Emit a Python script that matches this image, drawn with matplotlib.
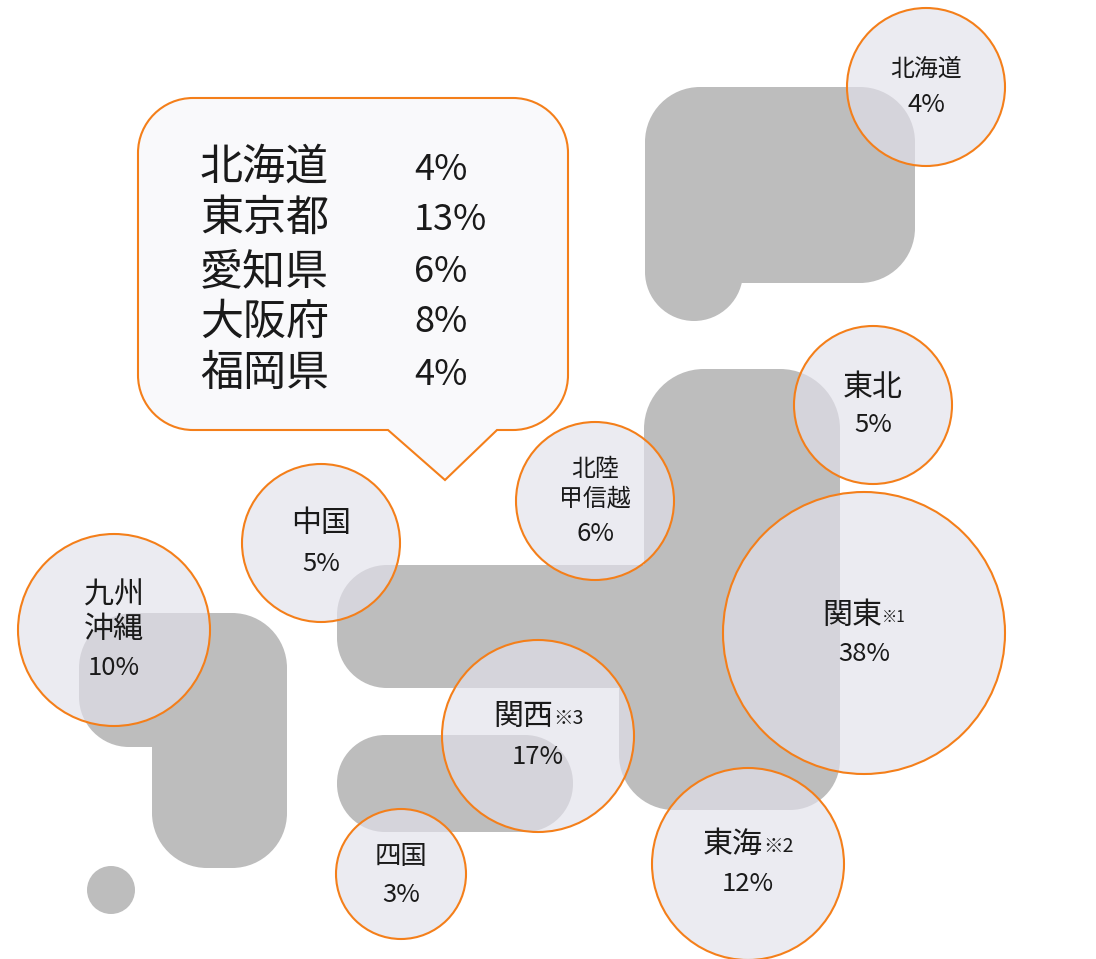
import matplotlib
matplotlib.use('Agg')
import matplotlib.pyplot as plt
from matplotlib.patches import Circle, PathPatch
from matplotlib.path import Path

plt.rcParams['font.family'] = ['Noto Sans CJK JP', 'DejaVu Sans']

# 地域別の割合
regions = ['北海道', '東北', '関東', '北陸\n甲信越', '中国', '九州\n沖縄', '関西', '四国', '東海']
shares = [4, 5, 38, 6, 5, 10, 17, 3, 12]
notes = ['', '', '※1', '', '', '', '※3', '', '※2']

# 吹き出しの表
cities = ['北海道', '東京都', '愛知県', '大阪府', '福岡県']
city_shares = [4, 13, 6, 8, 4]

# レイアウト(ピクセル)
bubble_x = [926, 873, 864, 595, 321, 114, 538, 401, 748]
bubble_y = [87, 405, 633, 501, 543, 630, 736, 874, 864]
bubble_r = [79, 79, 141, 79, 79, 96, 96, 65, 96]
name_y = [[69], [387], [615], [469, 499], [523], [595, 629], [716], [856], [844]]
share_y = [105, 425, 654, 534, 564, 668, 757, 895, 884]
name_size = [17.2, 21.6, 21.6, 17.2, 21.6, 21.6, 21.6, 19, 21.6]
note_size = [0, 0, 11, 0, 0, 0, 14, 0, 14]
note_w = [0, 0, 24, 0, 0, 0, 30, 0, 30]

city_y = [168, 219, 272, 323, 374]
city_share_y = [170, 220, 272, 322, 375]

GRAY = '#bdbdbd'
ORANGE = '#f47f1a'
BUBBLE = (226 / 255, 225 / 255, 235 / 255, 0.667)
TEXT = '#1a1a1a'


def rounded(points):
    # points : (x, y, 角の半径) を順番に
    verts = []
    codes = []
    n = len(points)
    for i in range(n):
        x, y, r = points[i]
        px, py, _ = points[i - 1]
        nx, ny, _ = points[(i + 1) % n]
        d1 = ((px - x) ** 2 + (py - y) ** 2) ** 0.5
        d2 = ((nx - x) ** 2 + (ny - y) ** 2) ** 0.5
        a = (x + (px - x) * r / d1, y + (py - y) * r / d1)
        b = (x + (nx - x) * r / d2, y + (ny - y) * r / d2)
        k = 0.4477
        c1 = (a[0] + (x - a[0]) * (1 - k), a[1] + (y - a[1]) * (1 - k))
        c2 = (b[0] + (x - b[0]) * (1 - k), b[1] + (y - b[1]) * (1 - k))
        if i == 0:
            verts.append(a)
            codes.append(Path.MOVETO)
        else:
            verts.append(a)
            codes.append(Path.LINETO)
        if r > 0:
            verts += [c1, c2, b]
            codes += [Path.CURVE4, Path.CURVE4, Path.CURVE4]
    verts.append(verts[0])
    codes.append(Path.CLOSEPOLY)
    return Path(verts, codes)


fig = plt.figure(figsize=(10.96, 9.59), dpi=100)
ax = fig.add_axes([0, 0, 1, 1])
ax.set_xlim(0, 1096)
ax.set_ylim(959, 0)
ax.axis('off')

# 日本地図のブロック
shapes = [
    [(645, 87, 55), (915, 87, 55), (915, 283, 55), (694, 283, 0), (694, 272, 0), (645, 272, 0)],
    [(644, 369, 60), (840, 369, 60), (840, 810, 50), (619, 810, 55), (619, 688, 0),
     (337, 688, 50), (337, 565, 50), (644, 565, 0)],
    [(337, 735, 48), (573, 735, 48), (573, 832, 48), (337, 832, 48)],
    [(79, 613, 55), (287, 613, 55), (287, 868, 55), (152, 868, 55), (152, 747, 0), (79, 747, 50)],
]
for s in shapes:
    ax.add_patch(PathPatch(rounded(s), fc=GRAY, ec='none', zorder=1))
ax.add_patch(Circle((694, 272), 49, fc=GRAY, ec='none', zorder=1))
ax.add_patch(Circle((111, 890), 24, fc=GRAY, ec='none', zorder=1))

# 吹き出し
callout = [(138, 98, 55), (568, 98, 55), (568, 430, 55), (497, 430, 0), (445, 480, 0),
           (388, 430, 0), (138, 430, 55)]
ax.add_patch(PathPatch(rounded(callout), fc='#f9f9fb', ec=ORANGE, lw=1.5, zorder=2))
for c, v, y1, y2 in zip(cities, city_shares, city_y, city_share_y):
    ax.text(200, y1, c, fontsize=31, color=TEXT, ha='left', va='center', zorder=3)
    ax.text(414, y2, f'{v}%', fontsize=26, color=TEXT, ha='left', va='center', zorder=3)

# バブル
for i in range(len(regions)):
    ax.add_patch(Circle((bubble_x[i], bubble_y[i]), bubble_r[i], fc=BUBBLE, ec=ORANGE,
                        lw=1.5, zorder=4))
    lines = regions[i].split('\n')
    for line, y in zip(lines, name_y[i]):
        if notes[i]:
            # 名前と注記を並べる
            w = name_size[i] / 0.72 * len(line)
            left = bubble_x[i] - (w + note_w[i]) / 2
            ax.text(left, y, line, fontsize=name_size[i], color=TEXT, ha='left', va='center', zorder=5)
            ax.text(left + w, y + 2, notes[i], fontsize=note_size[i], color=TEXT, ha='left',
                    va='center', zorder=5)
        else:
            ax.text(bubble_x[i], y, line, fontsize=name_size[i], color=TEXT, ha='center',
                    va='center', zorder=5)
    ax.text(bubble_x[i], share_y[i], f'{shares[i]}%', fontsize=18.5, color=TEXT, ha='center',
            va='center', zorder=5)

fig.savefig('out.png', dpi=100)
